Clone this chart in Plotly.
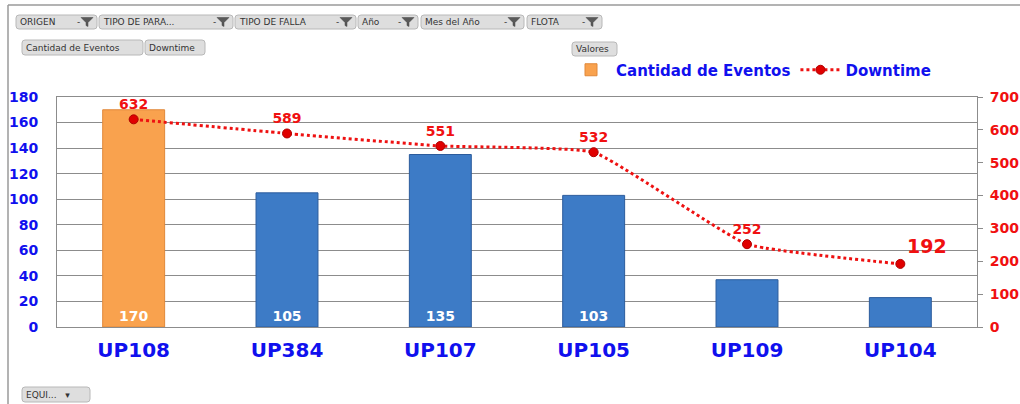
import plotly.graph_objects as go

# ---------------- data ----------------
categorias = ["UP108", "UP384", "UP107", "UP105", "UP109", "UP104"]
cantidad_eventos = [170, 105, 135, 103, 37, 23]
downtime = [632, 589, 551, 532, 252, 192]
etiquetas_barras = ["170", "105", "135", "103", "", ""]
filtros_fila1 = ["ORIGEN", "TIPO DE PARA...", "TIPO DE FALLA", "Año", "Mes del Año", "FLOTA"]
filtros_fila2 = ["Cantidad de Eventos", "Downtime"]

# ---------------- geometry helpers ----------------
W, H = 1020, 404
L, R, T, B = 57, 43, 97, 77
PW = W - L - R
PH = H - T - B


def px(x):
    return (x - L) / PW


def py(y):
    return (H - B - y) / PH


BLUE_TXT = "#1010EE"
RED = "#F01010"
FONT = "DejaVu Sans"

fig = go.Figure()

bar_colors = ["#F9A24E"] + ["#3D7BC6"] * (len(categorias) - 1)
bar_lines = ["#E0883A"] + ["#2C5C9C"] * (len(categorias) - 1)

fig.add_trace(go.Bar(
    x=categorias, y=cantidad_eventos, name="Cantidad de Eventos",
    marker=dict(color=bar_colors, line=dict(color=bar_lines, width=1)),
    text=etiquetas_barras, textposition="inside", insidetextanchor="start",
    textfont=dict(color="white", size=14, family=FONT, weight="bold"),
    cliponaxis=False, yaxis="y",
))

pos = ["top center"] * (len(downtime) - 1) + ["top right"]
sizes = [14] * (len(downtime) - 1) + [19]
fig.add_trace(go.Scatter(
    x=categorias, y=downtime, name="Downtime", yaxis="y2",
    mode="lines+markers+text",
    line=dict(color="#EE1111", width=3, dash="dot", shape="spline", smoothing=0.35),
    marker=dict(color="#E00000", size=9, line=dict(color="#B00000", width=1)),
    text=[str(v) for v in downtime], textposition=pos,
    textfont=dict(color=RED, size=sizes, family=FONT, weight="bold"),
    cliponaxis=False,
))

# ---------------- decorative UI (pivot buttons, frame) ----------------
shapes = []
annotations = []


def rounded(x0, y0, x1, y1, r=3):
    pts = (
        f"M {px(x0 + r)},{py(y0)} L {px(x1 - r)},{py(y0)} "
        f"Q {px(x1)},{py(y0)} {px(x1)},{py(y0 + r)} "
        f"L {px(x1)},{py(y1 - r)} Q {px(x1)},{py(y1)} {px(x1 - r)},{py(y1)} "
        f"L {px(x0 + r)},{py(y1)} Q {px(x0)},{py(y1)} {px(x0)},{py(y1 - r)} "
        f"L {px(x0)},{py(y0 + r)} Q {px(x0)},{py(y0)} {px(x0 + r)},{py(y0)} Z"
    )
    return dict(type="path", xref="paper", yref="paper", path=pts,
                fillcolor="#DEDEDE", line=dict(color="#B8B8B8", width=1), layer="above")


def funnel(cx, cy):
    p = (f"M {px(cx - 6)},{py(cy - 4)} L {px(cx + 6)},{py(cy - 4)} "
         f"L {px(cx + 1)},{py(cy + 1)} L {px(cx + 1)},{py(cy + 5)} "
         f"L {px(cx - 1)},{py(cy + 4)} L {px(cx - 1)},{py(cy + 1)} Z")
    return dict(type="path", xref="paper", yref="paper", path=p,
                fillcolor="#5A5A5A", line=dict(color="#444444", width=0.5), layer="above")


def button(label, x0, x1, y0, y1, with_funnel=False, suffix=""):
    shapes.append(rounded(x0, y0, x1, y1))
    annotations.append(dict(
        text=label + suffix, xref="paper", yref="paper", x=px(x0 + 2), y=py((y0 + y1) / 2),
        xanchor="left", yanchor="middle", showarrow=False,
        font=dict(family=FONT, size=9, color="#333333")))
    if with_funnel:
        annotations.append(dict(
            text="-", xref="paper", yref="paper", x=px(x1 - 19), y=py((y0 + y1) / 2),
            xanchor="center", yanchor="middle", showarrow=False,
            font=dict(family=FONT, size=9, color="#333333")))
        shapes.append(funnel(x1 - 10, (y0 + y1) / 2 - 0.5))


row1_x = [(16, 97), (99, 233), (235, 356), (358, 418), (421, 524), (527, 602)]
for lab, (a, b) in zip(filtros_fila1, row1_x):
    button(lab, a, b, 15, 29, with_funnel=True)
row2_x = [(22, 143), (145, 205)]
for lab, (a, b) in zip(filtros_fila2, row2_x):
    button(lab, a, b, 40, 55)
button("Valores", 572, 617, 42, 56)
button("EQUI...", 22, 90, 387, 402, suffix="   ▾")

# outer frame lines
shapes.append(dict(type="line", xref="paper", yref="paper", x0=px(8), x1=px(8), y0=py(5), y1=py(404),
                   line=dict(color="#9A9A9A", width=1.5)))
shapes.append(dict(type="line", xref="paper", yref="paper", x0=px(8), x1=px(1020), y0=py(5), y1=py(5),
                   line=dict(color="#9A9A9A", width=1.5)))

fig.update_layout(
    width=W, height=H, autosize=False,
    margin=dict(l=L, r=R, t=T, b=B, pad=0, autoexpand=False),
    paper_bgcolor="white", plot_bgcolor="white",
    bargap=0.596,
    showlegend=True,
    legend=dict(orientation="h", x=px(566), y=py(70), xanchor="left", yanchor="middle",
                font=dict(family=FONT, size=15, color=BLUE_TXT, weight="bold"),
                bgcolor="rgba(0,0,0,0)", itemwidth=40, tracegroupgap=0),
    xaxis=dict(
        type="category", showgrid=False, showline=True, mirror=True, automargin=False,
        linecolor="#8C8C8C", linewidth=1, ticks="",
        tickfont=dict(family=FONT, size=20, color=BLUE_TXT, weight="bold"),
        ticklabelstandoff=5,
    ),
    yaxis=dict(
        range=[0, 180], dtick=20, showgrid=True, gridcolor="#8C8C8C", gridwidth=1,
        showline=True, linecolor="#8C8C8C", linewidth=1, ticks="", zeroline=False,
        automargin=False,
        tickfont=dict(family=FONT, size=14, color=BLUE_TXT, weight="bold"),
        ticklabelstandoff=15,
    ),
    yaxis2=dict(
        range=[0, 700], dtick=100, overlaying="y", side="right", showgrid=False,
        showline=True, linecolor="#8C8C8C", linewidth=1, ticks="outside", ticklen=5,
        tickcolor="#8C8C8C", zeroline=False, automargin=False,
        tickfont=dict(family=FONT, size=14, color=RED, weight="bold"),
        ticklabelstandoff=4,
    ),
    shapes=shapes, annotations=annotations,
)

fig.write_html("out.html", config={"displayModeBar": False},
               post_script="document.body.style.margin='0px';document.body.style.overflow='hidden';")
